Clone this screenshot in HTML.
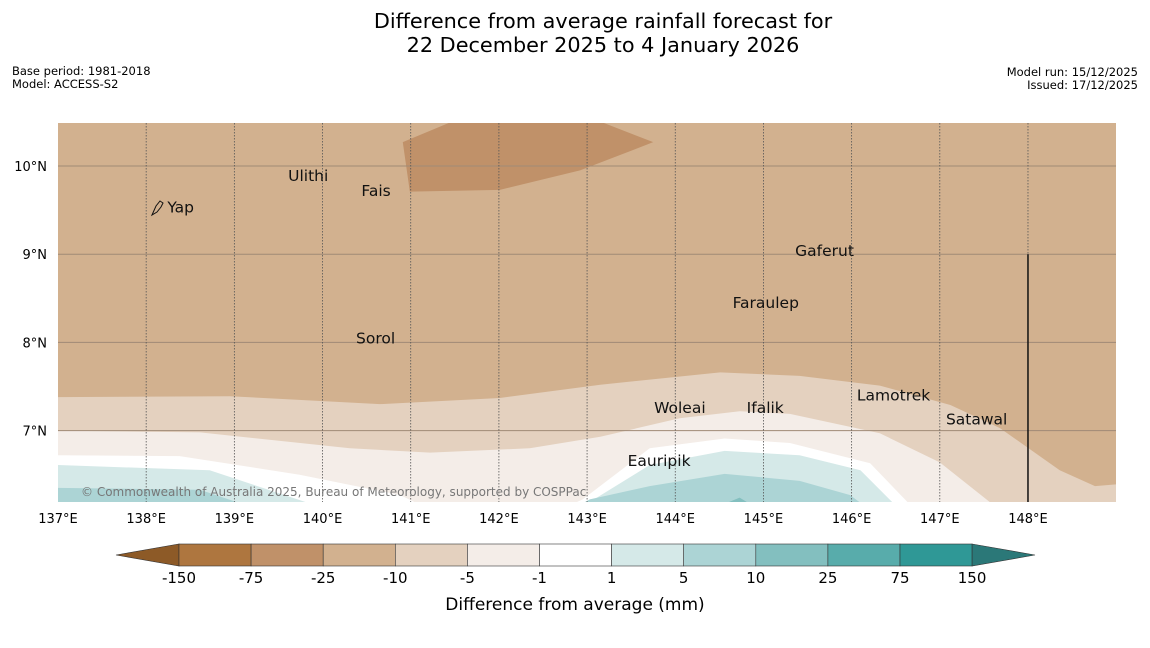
<!DOCTYPE html>
<html><head><meta charset="utf-8">
<style>
body{margin:0;background:#fff;width:1150px;height:644px;overflow:hidden;font-family:"DejaVu Sans","Liberation Sans",sans-serif;}
svg text{font-family:"DejaVu Sans","Liberation Sans",sans-serif;}
</style></head>
<body>
<svg id="chart" width="1150" height="644" viewBox="0 0 1150 644" xmlns="http://www.w3.org/2000/svg">
<rect width="1150" height="644" fill="#fff"/>
<text x="603" y="28" font-size="20.8" text-anchor="middle">Difference from average rainfall forecast for</text>
<text x="603" y="52" font-size="20.8" text-anchor="middle">22 December 2025 to 4 January 2026</text>
<text x="12" y="75" font-size="11.5">Base period: 1981-2018</text>
<text x="12" y="88" font-size="11.5">Model: ACCESS-S2</text>
<text x="1138" y="76" font-size="11.5" text-anchor="end">Model run: 15/12/2025</text>
<text x="1138" y="89" font-size="11.5" text-anchor="end">Issued: 17/12/2025</text>
<defs><clipPath id="mapclip"><rect x="58" y="123" width="1058" height="379"/></clipPath></defs>
<g id="map" clip-path="url(#mapclip)"></g>
<g id="overlay"></g>
<g id="colorbar"></g>
</svg>
<script>
// axis functions
const X0=58, PXD=88.18, Y0=166, PYD=88.2;
function lx(lon){return X0+(lon-137)*PXD;}
function ly(lat){return Y0-(lat-10)*PYD;}

// data: contour boundary lines (lon, lat)
const b1Lon=[137,138.95,140.65,142.01,143.15,144.51,145.41,146.32,147.12,147.68,148.36,148.76,149.0];
const b1Lat=[7.38,7.39,7.30,7.37,7.52,7.66,7.62,7.51,7.29,7.03,6.55,6.37,6.39];
const b2Lon=[137,138.61,140.31,141.22,142.35,143.15,144.05,144.73,145.30,146.32,147.0,147.68];
const b2Lat=[7.0,6.98,6.80,6.75,6.80,6.93,7.14,7.22,7.19,6.97,6.64,6.10];
const b3Lon=[137,138.38,139.74,140.88,141.22,142.69,142.95,143.71,144.56,145.30,146.21,146.72];
const b3Lat=[6.72,6.71,6.50,6.27,6.10,6.10,6.22,6.80,6.91,6.86,6.63,6.10];
const b4Lon=[137,138.72,140.08,142.69,143.03,143.71,144.56,145.41,146.10,146.55];
const b4Lat=[6.61,6.55,6.10,6.10,6.19,6.61,6.77,6.72,6.55,6.10];
const b5Lon=[137,138.61,139.29,142.81,143.03,143.71,144.56,145.41,145.98,146.21];
const b5Lat=[6.35,6.33,6.10,6.10,6.22,6.37,6.51,6.43,6.27,6.10];
const b6Lon=[144.39,144.73,144.96];
const b6Lat=[6.10,6.24,6.10];
const darkLon=[140.91,141.58,143.03,143.75,142.92,142.01,140.99];
const darkLat=[10.27,10.55,10.55,10.27,9.95,9.73,9.71];

const ticksLon=[137,138,139,140,141,142,143,144,145,146,147,148];
const ticksLat=[10,9,8,7];
const islandNames=["Yap","Ulithi","Fais","Gaferut","Faraulep","Sorol","Woleai","Ifalik","Lamotrek","Satawal","Eauripik"];
const islandLon=[138.24,139.61,140.44,145.36,144.65,140.38,143.76,144.81,146.06,147.07,143.46];
const islandLat=[9.47,9.83,9.66,8.98,8.39,7.99,7.20,7.20,7.34,7.07,6.60];

const cbLabels=["-150","-75","-25","-10","-5","-1","1","5","10","25","75","150"];
const cbColors=["#ae763f","#c09169","#d2b18f","#e4d1bf","#f4ede8","#ffffff","#d5e9e8","#acd4d5","#83bfbf","#58acab","#2f9896"];

const NS="http://www.w3.org/2000/svg";
function mk(tag,attrs,parent){const e=document.createElementNS(NS,tag);for(const k in attrs)e.setAttribute(k,attrs[k]);parent.appendChild(e);return e;}
const map=document.getElementById('map'), ov=document.getElementById('overlay'), cb=document.getElementById('colorbar');

let r=mk('rect',{x:58,y:123,width:1058,height:379,fill:'#d2b18f'},map);



function band(lons,lats,fill,name){
  let pts=lons.map((l,i)=>lx(l)+','+ly(lats[i]));
  pts.push(lx(lons[lons.length-1])+','+560); pts.push(lx(lons[0])+','+560);
  const p=mk('polygon',{points:pts.join(' '),fill:fill},map);
  
  
}
band(b1Lon,b1Lat,'#e4d1bf','band-minus10-to-minus5');
band(b2Lon,b2Lat,'#f4ede8','band-minus5-to-minus1');
band(b3Lon,b3Lat,'#ffffff','band-minus1-to-1');
band(b4Lon,b4Lat,'#d5e9e8','band-1-to-5');
band(b5Lon,b5Lat,'#acd4d5','band-5-to-10');
band(b6Lon,b6Lat,'#83bfbf','band-10-to-25');
const dk=mk('polygon',{points:darkLon.map((l,i)=>lx(l)+','+ly(darkLat[i])).join(' '),fill:'#c09169'},map);



// gridlines
ticksLat.forEach(t=>{
  const l=mk('line',{x1:58,x2:1116,y1:ly(t),y2:ly(t),stroke:'#a08a76','stroke-width':1},map);
  
  
  const tx=mk('text',{x:47,y:ly(t)+5,'font-size':13,'text-anchor':'end'},ov);
  tx.textContent=t+'°N';
  
  
});
ticksLon.forEach(t=>{
  if(t>137){
    const l=mk('line',{x1:lx(t),x2:lx(t),y1:123,y2:502,stroke:'#555','stroke-width':0.8,'stroke-dasharray':'1.5,1.5'},map);
    
    
  }
  const tx=mk('text',{x:lx(t),y:523,'font-size':13,'text-anchor':'middle'},ov);
  tx.textContent=t+'°E';
  
  
});
const bl=mk('line',{x1:lx(148),x2:lx(148),y1:ly(9),y2:502,stroke:'#111','stroke-width':1.5},map);



// Yap island glyph
const yp=mk('path',{d:'M152,215 L156,206 L160,201 L163,203 L161,207 L157,212 Z',fill:'none',stroke:'#111','stroke-width':1},map);



islandNames.forEach((n,i)=>{
  const x=lx(islandLon[i]), y=ly(islandLat[i]);
  const tx=mk('text',{x:x,y:y,'font-size':15.5,fill:'#111'},map);
  tx.textContent=n;
  
  
});
const cr=mk('text',{x:81,y:496,'font-size':12,fill:'#777'},map);
cr.textContent='© Commonwealth of Australia 2025, Bureau of Meteorology, supported by COSPPac';



// colorbar
const cbX=179, cbW=72.1, cbY=544, cbH=22;
const la=mk('polygon',{points:`116,555 ${cbX},${cbY} ${cbX},${cbY+cbH}`,fill:'#8d5a27',stroke:'#333','stroke-width':0.6},cb);


cbColors.forEach((c,i)=>{
  const rc=mk('rect',{x:cbX+i*cbW,y:cbY,width:cbW,height:cbH,fill:c,stroke:'#333','stroke-width':0.6},cb);
  
  
});
const xe=cbX+cbColors.length*cbW;
const ra=mk('polygon',{points:`${xe},${cbY} 1035,555 ${xe},${cbY+cbH}`,fill:'#2b7878',stroke:'#333','stroke-width':0.6},cb);


cbLabels.forEach((t,i)=>{
  const tx=mk('text',{x:cbX+i*cbW,y:583,'font-size':15,'text-anchor':'middle'},cb);
  tx.textContent=t;
  
  
});
const ct=mk('text',{x:575,y:610,'font-size':17,'text-anchor':'middle'},cb);
ct.textContent='Difference from average (mm)';


</script>
</body></html>
